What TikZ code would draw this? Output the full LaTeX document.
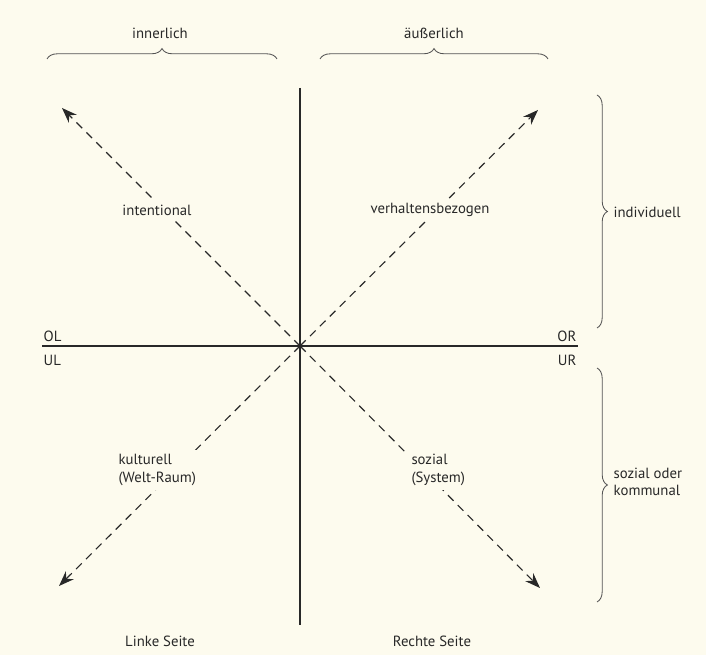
\documentclass[tikz,border=0pt]{standalone}
\usepackage{fontspec}
\setmainfont{PT Sans}
\usepackage{xcolor}
\usepackage{tikz}
\usetikzlibrary{arrows.meta, positioning, decorations.pathreplacing}
\definecolor{paper}{RGB}{253,251,238}
\definecolor{ink}{RGB}{40,40,40}
\tikzstyle{lbl} = [font=\fontsize{10.5}{12.5}\selectfont, text=ink, inner sep=1pt, align=left]
\tikzstyle{quad} = [lbl, fill=paper, inner sep=3pt]
\tikzstyle{axis} = [draw=ink, line width=0.9pt]
\tikzstyle{diag} = [draw=ink, line width=0.8pt, dash pattern=on 2mm off 1.5mm, -{Stealth[length=3.8mm, width=2.8mm]}]
\tikzstyle{curly} = [draw=ink!80, line width=0.6pt, decorate, decoration={brace, amplitude=2.6mm}]

\begin{document}
\begin{tikzpicture}[x=0.025cm, y=-0.025cm]
    \fill[paper] (0,0) rectangle (706,655);
    \useasboundingbox (0,0) rectangle (706,655);

    % axes
    \coordinate (c) at (300,346);
    \coordinate (top) at (300,88);
    \coordinate (bottom) at (300,625);
    \coordinate (left) at (42,346);
    \coordinate (right) at (578,346);
    \draw[axis] (top) -- (bottom);
    \draw[axis] (left) -- (right);

    % diagonals
    \coordinate (nw) at (62,108);
    \coordinate (ne) at (538,110);
    \coordinate (sw) at (59,586);
    \coordinate (se) at (540,588);
    \draw[diag] (c) -- (nw);
    \draw[diag] (c) -- (ne);
    \draw[diag] (c) -- (sw);
    \draw[diag] (c) -- (se);

    % quadrant corners
    \node[lbl, above right=2pt and 0pt of left] (ol) {OL};
    \node[lbl, below right=5pt and 0pt of left] (ul) {UL};
    \node[lbl, above left=2pt and 0pt of right] (or) {OR};
    \node[lbl, below left=5pt and 0pt of right] (ur) {UR};

    % quadrant texts
    \node[quad] (intent) at (157,210) {intentional};
    \node[quad] (verh) at (430,210) {verhaltensbezogen};
    \node[quad, anchor=west] (kult) at (114,470) {kulturell\\(Welt-Raum)};
    \node[quad, anchor=west] (soz) at (407,470) {sozial\\(System)};

    % braces
    \coordinate (b1a) at (47,59);
    \coordinate (b1b) at (277,59);
    \coordinate (b2a) at (320,59);
    \coordinate (b2b) at (548,59);
    \coordinate (b3a) at (597,95);
    \coordinate (b3b) at (597,328);
    \coordinate (b4a) at (597,368);
    \coordinate (b4b) at (597,602);
    \draw[curly] (b1a) -- (b1b);
    \draw[curly] (b2a) -- (b2b);
    \draw[curly] (b3a) -- (b3b);
    \draw[curly] (b4a) -- (b4b);

    \node[lbl] (inner) at (160,33) {innerlich};
    \node[lbl] (auss) at (434,33) {äußerlich};
    \node[lbl, anchor=west] (indiv) at (612,212) {individuell};
    \node[lbl, anchor=west] (komm) at (612,482) {sozial oder\\kommunal};

    \node[lbl] (links) at (160,641) {Linke Seite};
    \node[lbl] (rechts) at (432,641) {Rechte Seite};
\end{tikzpicture}
\end{document}
